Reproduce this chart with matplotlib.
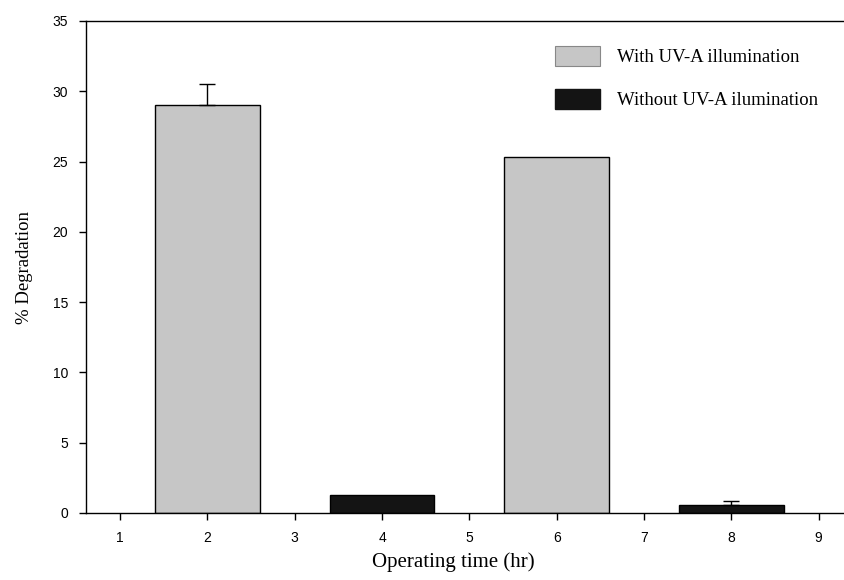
import matplotlib.pyplot as plt
from matplotlib.patches import Patch

# data
times = [2, 4, 6, 8]
degradation = [29.0, 1.3, 25.3, 0.6]
err_up = [1.5, 0.0, 0.0, 0.25]
with_uv = [True, False, True, False]
labels = ["With UV-A illumination", "Without UV-A ilumination"]
xticks = [1, 2, 3, 4, 5, 6, 7, 8, 9]
yticks = [0, 5, 10, 15, 20, 25, 30, 35]

gray = "#c6c6c6"
dark = "#141414"

fig = plt.figure(figsize=(8.44, 5.8), dpi=100)
ax = fig.add_axes([86 / 844, 67 / 580, 1 - 86 / 844, 492 / 580])

colors = [gray if w else dark for w in with_uv]
ax.bar(times, degradation, width=1.2, color=colors, edgecolor="black", linewidth=1.0, zorder=2)
for t, v, e in zip(times, degradation, err_up):
    if e > 0:
        ax.errorbar(t, v, yerr=[[0], [e]], fmt="none", ecolor="black",
                    elinewidth=1.0, capsize=6, capthick=1.0, zorder=3)

ax.set_xlim(0.61, 9.29)
ax.set_ylim(0, 35)
ax.set_xticks(xticks)
ax.set_yticks(yticks)
ax.spines["right"].set_visible(False)
for s in ["left", "top", "bottom"]:
    ax.spines[s].set_linewidth(1.0)
ax.tick_params(direction="out", length=5, width=1.0, labelsize=10, pad=8)
for lab in ax.get_xticklabels() + ax.get_yticklabels():
    lab.set_family("Liberation Sans")

ax.set_xlabel("Operating time (hr)", family="Liberation Serif", fontsize=15)
ax.xaxis.set_label_coords((453 - 86) / 758, -0.08)
ax.set_ylabel("% Degradation", family="Liberation Serif", fontsize=13.5, labelpad=14)

handles = [Patch(facecolor=gray, edgecolor="#888888", linewidth=0.8),
           Patch(facecolor=dark, edgecolor=dark)]
fig.legend(handles, labels, loc="upper left", bbox_to_anchor=(555 / 844, 1 - 46 / 580),
           frameon=False, prop={"family": "Liberation Serif", "size": 13.5},
           handlelength=2.4, handleheight=1.25, handletextpad=0.9, labelspacing=1.2,
           borderaxespad=0, borderpad=0)

plt.savefig("out.png", dpi=100)
